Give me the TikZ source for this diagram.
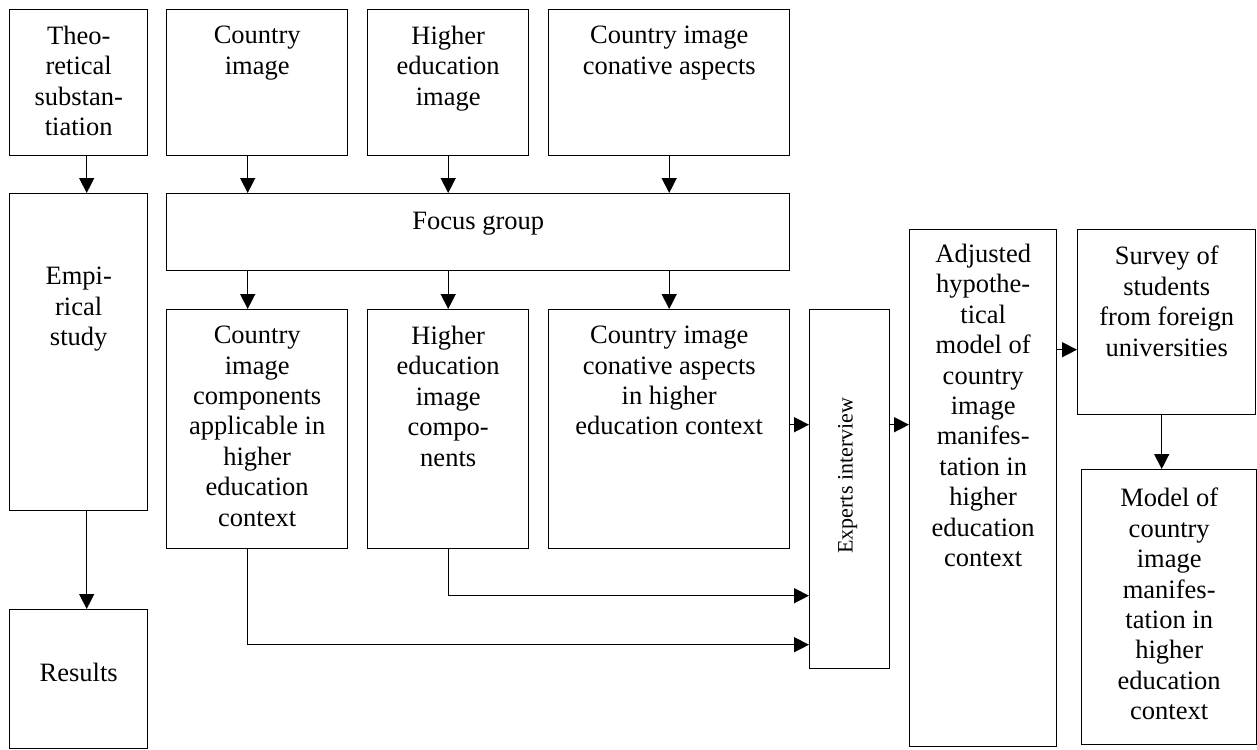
\documentclass[tikz,border=0pt]{standalone}
\usepackage{fontspec}
\setmainfont{Liberation Serif}
\usetikzlibrary{positioning}
\usetikzlibrary{arrows.meta}

\tikzset{
  box/.style={draw=black, line width=1.4pt, inner sep=0pt, anchor=north west},
  lbl/.style={font=\fontsize{26.5pt}{30.4pt}\selectfont, align=center, inner sep=0pt},
  txt/.style={lbl, anchor=north, yshift=-17pt},
  arr/.style={line width=1.4pt, -{Triangle[length=15pt,width=15pt]}}
}

\begin{document}
\begin{tikzpicture}[x=1pt, y=1pt]
\useasboundingbox (0,0) rectangle (1257,-749);
%left column
\node[box, minimum width=138pt, minimum height=146pt, label={[txt]north:{Theo-\\retical\\substan-\\tiation}}] (theo) at (9,-9) {};
\node[box, minimum width=138pt, minimum height=317pt, label={[txt, yshift=-57pt]north:{Empi-\\rical\\study}}] (empir) at (9,-193) {};
\node[box, minimum width=138pt, minimum height=139pt, label={[txt, yshift=-37pt]north:{Results}}] (result) at (9,-609) {};
%top row
\node[box, minimum width=181pt, minimum height=146pt, label={[txt]north:{Country\\image}}] (cimg) at (166,-9) {};
\node[box, minimum width=161pt, minimum height=146pt, label={[txt]north:{Higher\\education\\image}}] (heimg) at (367,-9) {};
\node[box, minimum width=241pt, minimum height=146pt, label={[txt]north:{Country image\\conative aspects}}] (conat) at (548,-9) {};
%focus group
\node[box, minimum width=623pt, minimum height=77pt, label={[txt, yshift=-2pt]north:{Focus group}}] (focus) at (166,-193) {};
%second row
\node[box, minimum width=181pt, minimum height=239pt, label={[txt]north:{Country\\image\\components\\applicable in\\higher\\education\\context}}] (comp) at (166,-309) {};
\node[box, minimum width=161pt, minimum height=239pt, label={[txt]north:{Higher\\education\\image\\compo-\\nents}}] (hecomp) at (367,-309) {};
\node[box, minimum width=241pt, minimum height=239pt, label={[txt]north:{Country image\\conative aspects\\in higher\\education context}}] (conhe) at (548,-309) {};
%experts
\node[box, minimum width=80pt, minimum height=359pt] (expert) at (809,-309) {};
\node[lbl, font=\fontsize{22pt}{26pt}\selectfont, rotate=90] (experttxt) at ([xshift=-2pt, yshift=13.5pt]expert.center) {Experts interview};
%right part
\node[box, minimum width=147pt, minimum height=517pt, label={[txt, yshift=2pt]north:{Adjusted\\hypothe-\\tical\\model of\\country\\image\\manifes-\\tation in\\higher\\education\\context}}] (adj) at (909,-229) {};
\node[box, minimum width=178pt, minimum height=185pt, label={[txt]north:{Survey of\\students\\from foreign\\universities}}] (survey) at (1077,-229) {};
\node[box, minimum width=175pt, minimum height=275pt, label={[txt, yshift=-2pt]north:{Model of\\country\\image\\manifes-\\tation in\\higher\\education\\context}}] (model) at (1081,-469) {};

%connector points
\coordinate (c1) at ([xshift=-9.5pt]cimg.south); %country image column
\coordinate (t1) at ([xshift=8pt]theo.south); %left column
\coordinate (r1) at ([yshift=4.5pt]conhe.east); %into experts
\coordinate (r2) at ([yshift=-27.5pt]survey.west); %into survey
\coordinate (d1) at ([xshift=-5pt]survey.south); %into model

%arrows
\draw[arr] (t1) -- (t1 |- empir.north);
\draw[arr] (t1 |- empir.south) -- (t1 |- result.north);
\draw[arr] (c1) -- (c1 |- focus.north);
\draw[arr] (heimg.south) -- (heimg.south |- focus.north);
\draw[arr] (conat.south) -- (conat.south |- focus.north);
\draw[arr] (c1 |- focus.south) -- (c1 |- comp.north);
\draw[arr] (hecomp.north |- focus.south) -- (hecomp.north);
\draw[arr] (conhe.north |- focus.south) -- (conhe.north);
\draw[arr] (r1) -- (r1 -| expert.west);
\draw[arr] (hecomp.south) |- ([yshift=-106.5pt]expert.west);
\draw[arr] (c1 |- comp.south) |- ([yshift=-155.5pt]expert.west);
\draw[arr] (r1 -| expert.east) -- (r1 -| adj.west);
\draw[arr] (r2 -| adj.east) -- (r2);
\draw[arr] (d1) -- (d1 |- model.north);

\end{tikzpicture}
\end{document}
